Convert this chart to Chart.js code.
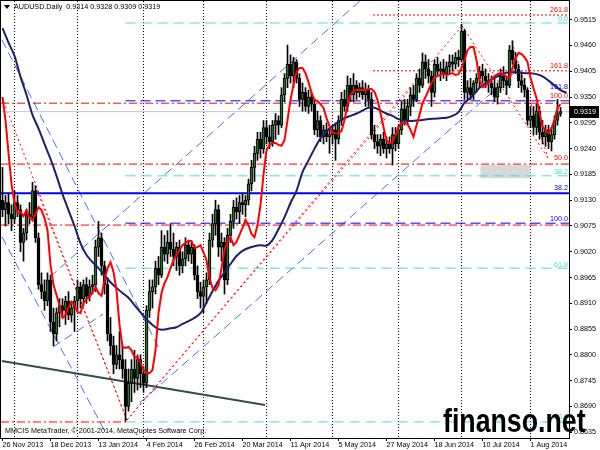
<!DOCTYPE html>
<html>
<head>
<meta charset="utf-8">
<script src="https://cdn.jsdelivr.net/npm/chart.js@4/dist/chart.umd.min.js"></script>
<style>
  html, body { margin: 0; padding: 0; background: #fff; }
  canvas { display: block; }
</style>
</head>
<body>
<canvas id="chart" width="600" height="450"></canvas>
<script>
// x axis: one bar per trading day, 26 Nov 2013 .. 15 Aug 2014
const xLabelIdx = [0, 16, 32, 48, 64, 80, 96, 112, 128, 144, 160, 176];
const xLabels = ['26 Nov 2013', '18 Dec 2013', '13 Jan 2014', '4 Feb 2014', '26 Feb 2014', '20 Mar 2014',
                 '11 Apr 2014', '5 May 2014', '27 May 2014', '18 Jun 2014', '10 Jul 2014', '1 Aug 2014'];
const monthGridIdx = [4, 25, 47, 67, 88, 110, 132, 153, 176];
const yTicks = [0.8635, 0.8690, 0.8745, 0.8800, 0.8855, 0.8910, 0.8965, 0.9020, 0.9075,
                0.9130, 0.9185, 0.9240, 0.9295, 0.9350, 0.9405, 0.9460, 0.9515];

const opens = [
  .9130,.9110,.9125,.9100,.9090,.9125,.9110,.9040,.9060,.9100,.9095,.9150,.9050,.8950,.8935,.8915,.8960,.8870,.8845,.8890,
  .8905,.8895,.8915,.8885,.8900,.8915,.8945,.8920,.8950,.8925,.8945,.8950,.9030,.9050,.8990,.8950,.8845,.8820,.8780,.8800,
  .8790,.8770,.8690,.8740,.8770,.8750,.8790,.8760,.8740,.8895,.8935,.8945,.8985,.8970,.9030,.9015,.9040,.9025,.9010,.9030,
  .8990,.9005,.9035,.9015,.9030,.8970,.8935,.8925,.8945,.8960,.9045,.9080,.9110,.9030,.9040,.8960,.9055,.9085,.9115,.9105,
  .9125,.9120,.9130,.9165,.9200,.9230,.9260,.9240,.9285,.9265,.9255,.9290,.9300,.9290,.9355,.9390,.9420,.9395,.9425,.9390,
  .9345,.9360,.9330,.9350,.9335,.9280,.9300,.9265,.9280,.9265,.9270,.9280,.9260,.9300,.9345,.9330,.9375,.9355,.9375,.9360,
  .9370,.9355,.9365,.9345,.9270,.9255,.9245,.9260,.9240,.9250,.9240,.9270,.9250,.9280,.9325,.9300,.9330,.9355,.9345,.9390,
  .9375,.9425,.9410,.9395,.9360,.9420,.9405,.9410,.9400,.9415,.9425,.9420,.9435,.9430,.9490,.9360,.9370,.9355,.9380,.9390,
  .9405,.9395,.9385,.9380,.9370,.9350,.9370,.9395,.9385,.9375,.9450,.9430,.9410,.9385,.9375,.9365,.9300,.9310,.9285,.9320,
  .9275,.9265,.9280,.9255,.9270,.9300,.9314
];
const highs = [
  .9200,.9140,.9145,.9120,.9150,.9140,.9120,.9070,.9110,.9125,.9168,.9160,.9060,.8975,.8960,.8975,.8970,.8900,.8900,.8920,
  .8920,.8925,.8935,.8915,.8925,.8960,.8955,.8960,.8965,.8960,.8970,.9045,.9085,.9060,.9000,.8965,.8880,.8840,.8820,.8850,
  .8820,.8790,.8770,.8790,.8810,.8800,.8800,.8775,.8905,.8960,.8960,.9000,.9010,.9065,.9055,.9065,.9080,.9060,.9040,.9045,
  .9020,.9050,.9045,.9040,.9035,.8990,.8955,.8960,.8975,.9060,.9100,.9130,.9120,.9060,.9050,.9070,.9100,.9130,.9135,.9140,
  .9145,.9140,.9175,.9215,.9245,.9275,.9275,.9300,.9300,.9290,.9300,.9315,.9310,.9370,.9400,.9461,.9440,.9435,.9430,.9400,
  .9380,.9370,.9365,.9360,.9345,.9320,.9310,.9290,.9295,.9285,.9290,.9295,.9310,.9360,.9365,.9395,.9390,.9400,.9385,.9380,
  .9385,.9380,.9375,.9360,.9290,.9270,.9270,.9275,.9265,.9265,.9285,.9285,.9290,.9340,.9345,.9345,.9370,.9375,.9400,.9410,
  .9444,.9440,.9430,.9405,.9430,.9435,.9425,.9430,.9425,.9440,.9440,.9445,.9450,.9505,.9495,.9385,.9390,.9385,.9400,.9415,
  .9420,.9410,.9400,.9395,.9390,.9380,.9410,.9415,.9395,.9460,.9470,.9445,.9420,.9400,.9390,.9370,.9330,.9330,.9335,.9330,
  .9300,.9290,.9290,.9285,.9310,.9345,.9328
];
const lows = [
  .9095,.9075,.9080,.9065,.9080,.9095,.9020,.9000,.9045,.9080,.9085,.9040,.8940,.8920,.8895,.8905,.8850,.8820,.8830,.8860,
  .8880,.8865,.8875,.8870,.8850,.8895,.8900,.8905,.8910,.8915,.8930,.8935,.9010,.8970,.8930,.8830,.8800,.8760,.8770,.8770,
  .8750,.8659,.8680,.8700,.8720,.8725,.8730,.8720,.8730,.8880,.8900,.8930,.8950,.8965,.9000,.8995,.9010,.8990,.8980,.8970,
  .8975,.8990,.9000,.8995,.8960,.8920,.8900,.8890,.8910,.8950,.9030,.9055,.9010,.9000,.8930,.8950,.9040,.9070,.9090,.9080,
  .9100,.9095,.9120,.9150,.9170,.9215,.9220,.9230,.9250,.9240,.9245,.9260,.9270,.9285,.9340,.9370,.9380,.9370,.9380,.9330,
  .9320,.9320,.9315,.9320,.9270,.9265,.9255,.9250,.9255,.9230,.9250,.9215,.9250,.9290,.9320,.9320,.9340,.9340,.9345,.9350,
  .9345,.9330,.9330,.9260,.9240,.9230,.9225,.9230,.9220,.9230,.9205,.9235,.9240,.9270,.9290,.9290,.9310,.9330,.9340,.9360,
  .9370,.9390,.9380,.9330,.9350,.9395,.9385,.9390,.9385,.9400,.9405,.9410,.9415,.9425,.9345,.9345,.9345,.9345,.9360,.9370,
  .9380,.9370,.9360,.9355,.9340,.9335,.9360,.9370,.9355,.9370,.9420,.9400,.9370,.9360,.9350,.9290,.9285,.9270,.9270,.9260,
  .9250,.9245,.9240,.9235,.9260,.9290,.9309
];
const closes = [
  .9110,.9125,.9100,.9090,.9125,.9110,.9040,.9060,.9100,.9095,.9150,.9050,.8950,.8935,.8915,.8960,.8870,.8845,.8890,.8905,
  .8895,.8915,.8885,.8900,.8915,.8945,.8920,.8950,.8925,.8945,.8950,.9030,.9050,.8990,.8950,.8845,.8820,.8780,.8800,.8790,
  .8770,.8690,.8740,.8770,.8750,.8790,.8760,.8740,.8895,.8935,.8945,.8985,.8970,.9030,.9015,.9040,.9025,.9010,.9030,.8990,
  .9005,.9035,.9015,.9030,.8970,.8935,.8925,.8945,.8960,.9045,.9080,.9110,.9030,.9040,.8960,.9055,.9085,.9115,.9105,.9125,
  .9120,.9130,.9165,.9200,.9230,.9260,.9240,.9285,.9265,.9255,.9290,.9300,.9290,.9355,.9390,.9420,.9395,.9425,.9390,.9345,
  .9360,.9330,.9350,.9335,.9280,.9300,.9265,.9280,.9265,.9270,.9280,.9260,.9300,.9345,.9330,.9375,.9355,.9375,.9360,.9370,
  .9355,.9365,.9345,.9270,.9255,.9245,.9260,.9240,.9250,.9240,.9270,.9250,.9280,.9325,.9300,.9330,.9355,.9345,.9390,.9375,
  .9425,.9410,.9395,.9360,.9420,.9405,.9410,.9400,.9415,.9425,.9420,.9435,.9430,.9490,.9360,.9370,.9355,.9380,.9390,.9405,
  .9395,.9385,.9380,.9370,.9350,.9370,.9395,.9385,.9375,.9450,.9430,.9410,.9385,.9375,.9365,.9300,.9310,.9285,.9320,.9275,
  .9265,.9280,.9255,.9270,.9300,.9314,.9319
];

// fast moving average (red), one value per bar
const redMA = [
  .9350,.9301,.9231,.9165,.9125,.9103,.9105,.9096,.9109,.9094,.9088,.9101,.9115,.9109,.9092,.9066,.8992,.8949,.8928,.8906,
  .8879,.8885,.8902,.8913,.8906,.8892,.8889,.8911,.8919,.8924,.8934,.8945,.8932,.8926,.8960,.8985,.8998,.8977,.8938,.8864,
  .8817,.8815,.8817,.8810,.8795,.8795,.8783,.8768,.8761,.8761,.8768,.8810,.8889,.8932,.8953,.8966,.8985,.9002,.9013,.9024,
  .9034,.9039,.9043,.9043,.9028,.9030,.9034,.9019,.9002,.8964,.8943,.8938,.8949,.8985,.9024,.9041,.9051,.9034,.9041,.9056,
  .9071,.9088,.9077,.9058,.9051,.9077,.9120,.9184,.9237,.9248,.9252,.9252,.9248,.9246,.9258,.9301,.9344,.9376,.9403,.9412,
  .9412,.9401,.9382,.9359,.9344,.9342,.9335,.9327,.9305,.9288,.9273,.9273,.9273,.9278,.9301,.9333,.9354,.9363,.9365,.9365,
  .9365,.9365,.9367,.9367,.9361,.9344,.9316,.9286,.9258,.9252,.9254,.9269,.9286,.9295,.9295,.9293,.9280,.9265,.9290,.9312,
  .9337,.9350,.9365,.9380,.9391,.9395,.9397,.9401,.9397,.9399,.9401,.9397,.9399,.9412,.9429,.9450,.9457,.9457,.9429,.9386,
  .9371,.9374,.9380,.9388,.9395,.9399,.9401,.9399,.9393,.9391,.9412,.9433,.9444,.9442,.9435,.9425,.9391,.9369,.9348,.9316,
  .9286,.9280,.9273,.9284,.9301,.9327,.9335
];
// slow moving average (navy), read every second bar
const navyIdx = [0,2,4,6,8,10,12,14,16,18,20,22,24,26,28,30,32,34,36,38,40,42,44,46,48,50,52,54,56,58,60,62,64,66,68,70,
  72,74,76,78,80,82,84,86,88,90,92,94,96,98,100,102,104,106,108,110,112,114,116,118,120,122,124,126,128,130,132,134,136,
  138,140,142,144,146,148,150,152,154,156,158,160,162,164,166,168,170,172,174,176,178,180,182,184,186,188];
const navyVal = [.9497,.9466,.9438,.9393,.9355,.9312,.9283,.9250,.9218,.9182,.9143,.9109,.9075,.9038,.9013,.8998,.8985,
  .8970,.8955,.8943,.8932,.8922,.8906,.8891,.8876,.8864,.8855,.8854,.8857,.8859,.8866,.8872,.8879,.8889,.8912,.8936,.8958,
  .8976,.8994,.9011,.9022,.9028,.9032,.9034,.9033,.9045,.9068,.9094,.9124,.9150,.9190,.9215,.9240,.9262,.9277,.9288,.9297,
  .9305,.9310,.9315,.9321,.9327,.9327,.9321,.9315,.9310,.9303,.9300,.9299,.9300,.9301,.9303,.9304,.9305,.9306,.9310,.9318,
  .9338,.9348,.9363,.9375,.9384,.9391,.9397,.9402,.9403,.9403,.9401,.9401,.9399,.9394,.9385,.9375,.9365,.9359];

// horizontal levels (price)
const redDotLevels = [0.9525, 0.9406];
const redDashDotLevels = [0.9337, 0.9207, 0.9077];
const redDashDotLow = 0.8657;
const cyanLevels = [0.9508, 0.9182, 0.8985, 0.8657];
const blueDashLevels = [0.9342, 0.9081];
const blueSolidLevel = 0.9145;
// trend lines [i1, price1, i2, price2]
const blueTrends = [
  [-0.2, 0.9472, 52.5, 0.8810],
  [-0.2, 0.9052, 34.2, 0.8636],
  [15.8, 0.8966, 119.5, 0.9557],
  [45.8, 0.8698, 170.8, 0.9403],
  [16.8, 0.8817, 33.5, 0.8887]
];
const blackTrend = [-0.2, 0.8787, 87.5, 0.8693];
const redDotTrends = [
  [-0.2, 0.9350, 41.5, 0.8661],
  [10.8, 0.9162, 41.5, 0.8661],
  [41.5, 0.8661, 153.2, 0.9502],
  [41.5, 0.8661, 135.8, 0.9365],
  [153.2, 0.9502, 181.8, 0.9220],
  [169.8, 0.9467, 181.8, 0.9220]
];
// level captions at the right edge
const fibText = ['261.8', '0.0', '161.8', '161.8', '100.0', '50.0', '38.2', '38.2', '100.0', '61.8', '100.0'];
const fibTextPrice = [0.9536, 0.9516, 0.9416, 0.9371, 0.9352, 0.9220, 0.9190, 0.9156, 0.9090, 0.8992, 0.8668];
const fibTextKind = ['r', 'c', 'r', 'b', 'r', 'r', 'c', 'b', 'b', 'c', 'c'];
const greyBoxIdx = [159.3, 176];
const greyBoxPrice = [0.9205, 0.9177];

const X_MIN = -0.5, X_MAX = 188.83;
const Y_MIN = 0.86228, Y_MAX = 0.95549;
const FONT = '"Liberation Sans", Arial, sans-serif';
const FSIZE = 7.2;
const RED = '#ff0000', CYAN = '#40e0d0', BLUE = '#0000ff', CHAN = '#4a6cf0';
const kindColor = { r: RED, c: CYAN, b: BLUE };

function seg(p, color, width, dash) {
  return {
    type: 'line', data: [{ x: p[0], y: p[1] }, { x: p[2], y: p[3] }],
    borderColor: color, borderWidth: width, borderDash: dash,
    pointRadius: 0, fill: false, tension: 0, order: 10
  };
}
function level(price, from, to, color, width, dash) {
  return seg([from, price, to, price], color, width, dash);
}

const datasets = [];
redDotLevels.forEach(p => datasets.push(level(p, 123.5, X_MAX, RED, 1, [2, 2])));
redDashDotLevels.forEach(p => datasets.push(level(p, X_MIN, X_MAX, RED, 1, [8, 3, 2, 3])));
datasets.push(level(redDashDotLow, X_MIN, 41.5, RED, 1, [8, 3, 2, 3]));
cyanLevels.forEach(p => datasets.push(level(p, 41, X_MAX, CYAN, 1, [10, 6])));
blueDashLevels.forEach(p => datasets.push(level(p, 41, X_MAX, BLUE, 1, [10, 5])));
datasets.push(level(blueSolidLevel, X_MIN, X_MAX, BLUE, 2, []));
datasets.push(level(closes[closes.length - 1], X_MIN, X_MAX, '#c8c8c8', 1, []));
blueTrends.forEach(t => datasets.push(seg(t, CHAN, 1, [9, 5])));
redDotTrends.forEach(t => datasets.push(seg(t, RED, 1, [2, 3])));
datasets.push(seg(blackTrend, '#2f4f4f', 2, []));

// candles: wick + body
datasets.push({
  type: 'bar', order: 5, grouped: false, barThickness: 1,
  data: highs.map((h, i) => ({ x: i, y: [lows[i], h] })),
  backgroundColor: '#000', borderWidth: 0
});
datasets.push({
  type: 'bar', order: 4, grouped: false, barThickness: 3,
  data: opens.map((o, i) => ({ x: i, y: [Math.min(o, closes[i]), Math.max(o, closes[i])] })),
  backgroundColor: opens.map((o, i) => closes[i] >= o ? '#2f6a2f' : '#000'),
  borderColor: '#000', borderWidth: 1, borderSkipped: false
});
datasets.push({
  type: 'line', order: 2, data: navyIdx.map((v, k) => ({ x: v, y: navyVal[k] })),
  borderColor: '#1f1f6b', borderWidth: 2, pointRadius: 0, tension: 0.3, fill: false
});
datasets.push({
  type: 'line', order: 1, data: redMA.map((v, i) => ({ x: i, y: v })),
  borderColor: RED, borderWidth: 2, pointRadius: 0, tension: 0, fill: false
});

const overlay = {
  id: 'overlay',
  beforeDatasetsDraw(chart) {
    const { ctx, scales: { x, y } } = chart;
    ctx.save();
    ctx.fillStyle = '#d8d8d8';
    const x1 = x.getPixelForValue(greyBoxIdx[0]), x2 = x.getPixelForValue(greyBoxIdx[1]);
    const y1 = y.getPixelForValue(greyBoxPrice[0]), y2 = y.getPixelForValue(greyBoxPrice[1]);
    ctx.fillRect(x1, y1, x2 - x1, y2 - y1);
    ctx.restore();
  },
  afterDatasetsDraw(chart) {
    const { ctx, chartArea, scales: { y } } = chart;
    ctx.save();
    ctx.font = FSIZE + 'px ' + FONT;
    ctx.textAlign = 'right';
    ctx.textBaseline = 'middle';
    fibText.forEach((t, k) => {
      ctx.fillStyle = kindColor[fibTextKind[k]];
      ctx.fillText(t, chartArea.right - 1, y.getPixelForValue(fibTextPrice[k]));
    });
    ctx.restore();
  },
  afterDraw(chart) {
    const { ctx, chartArea, scales: { y } } = chart;
    ctx.save();
    ctx.strokeStyle = '#000';
    ctx.lineWidth = 1;
    ctx.strokeRect(chartArea.left - 0.5, chartArea.top - 0.5,
                   chartArea.right - chartArea.left + 1, chartArea.bottom - chartArea.top + 1);
    // header
    ctx.fillStyle = '#000';
    ctx.beginPath();
    ctx.moveTo(4, 5); ctx.lineTo(10, 5); ctx.lineTo(7, 9); ctx.closePath(); ctx.fill();
    ctx.font = FSIZE + 'px ' + FONT;
    ctx.textBaseline = 'middle';
    ctx.textAlign = 'left';
    const n = closes.length - 1;
    ctx.fillText('AUDUSD.Daily  ' + [opens[n], highs[n], lows[n], closes[n]].map(v => v.toFixed(4)).join(' '), 14, 7);
    ctx.fillText('MMCIS MetaTrader, \u00a9 2001-2014, MetaQuotes Software Corp.', 5, 431);
    // current price marker
    const py = Math.round(y.getPixelForValue(closes[n]));
    ctx.fillRect(570, py - 6, 29, 12);
    ctx.fillStyle = '#fff';
    ctx.fillText(closes[n].toFixed(4), 574, py);
    // watermark, narrowed horizontally
    ctx.fillStyle = '#000';
    ctx.font = 'bold 33px ' + FONT;
    ctx.textBaseline = 'alphabetic';
    ctx.translate(443, 432);
    ctx.scale(0.81, 1);
    ctx.fillText('finanso.net', 0, 0);
    ctx.restore();
  }
};

new Chart(document.getElementById('chart'), {
  type: 'line',
  data: { datasets },
  options: {
    responsive: false,
    animation: false,
    devicePixelRatio: 1,
    layout: { padding: { left: 1, top: 1, right: 0, bottom: 0 } },
    plugins: { legend: { display: false }, tooltip: { enabled: false } },
    scales: {
      x: {
        type: 'linear', position: 'bottom', min: X_MIN, max: X_MAX, offset: false,
        afterBuildTicks: s => { s.ticks = xLabelIdx.map(v => ({ value: v })); },
        afterFit: s => { s.height = 12; s.paddingLeft = 0; s.paddingRight = 0; },
        ticks: {
          autoSkip: false, maxRotation: 0, align: 'start', padding: 0, color: '#000',
          font: { family: FONT, size: FSIZE },
          callback: (v, k) => xLabels[k]
        },
        grid: { drawOnChartArea: false, tickLength: 3, color: '#000', offset: false },
        border: { display: true, color: '#000' }
      },
      xg: {
        type: 'linear', position: 'bottom', min: X_MIN, max: X_MAX, offset: false,
        afterBuildTicks: s => { s.ticks = monthGridIdx.map(v => ({ value: v })); },
        afterFit: s => { s.height = 0; s.paddingLeft = 0; s.paddingRight = 0; },
        ticks: { display: false },
        grid: { drawOnChartArea: true, drawTicks: false, color: '#000', lineWidth: 1, offset: false },
        border: { display: false, dash: [1, 2] }
      },
      y: {
        type: 'linear', position: 'right', min: Y_MIN, max: Y_MAX,
        afterBuildTicks: s => { s.ticks = yTicks.map(v => ({ value: v })); },
        afterFit: s => { s.width = 31; s.paddingTop = 0; s.paddingBottom = 0; },
        ticks: {
          color: '#000', padding: 2,
          font: { family: FONT, size: FSIZE },
          callback: v => v.toFixed(4)
        },
        grid: { drawOnChartArea: false, tickLength: 3, color: '#000' },
        border: { display: true, color: '#000' }
      }
    }
  },
  plugins: [overlay]
});
</script>
</body>
</html>
